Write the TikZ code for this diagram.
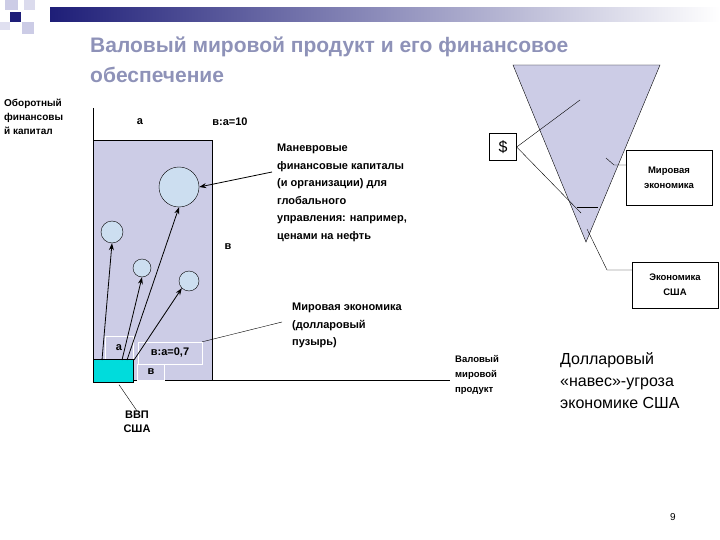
\documentclass[tikz,border=0pt]{standalone}
\usepackage{fontspec}
\setmainfont{Liberation Sans}
\usetikzlibrary{arrows.meta}
\definecolor{fillb}{RGB}{204,204,230}
\definecolor{circb}{RGB}{204,222,240}
\definecolor{ttl}{RGB}{142,146,184}
\definecolor{navy}{RGB}{30,30,120}
\definecolor{cyanb}{RGB}{0,220,220}
\begin{document}
\begin{tikzpicture}[x=1pt,y=-1pt,
  lbl/.style={font=\bfseries\fontsize{11}{17.5}\selectfont,align=left,inner sep=0pt},
  lblc/.style={font=\bfseries\fontsize{11}{14}\selectfont,align=center,inner sep=0pt},
  sml/.style={font=\bfseries\fontsize{10}{14}\selectfont},
  bub/.style={circle,draw,fill=circb,inner sep=0pt},
  arr/.style={-{Stealth[length=7pt,width=5pt]},thick},
  wbox/.style={draw=white,inner sep=0pt}]
\useasboundingbox (0,0) rectangle (720,540);
% header
\shade[left color=navy,right color=white] (50,8) rectangle (720,22);
\fill[navy] (10,12) rectangle (21,22);
\fill[fillb] (5,0) rectangle (18,10);
\fill[fillb!70] (24,0) rectangle (35,10);
\fill[fillb] (22,22) rectangle (34,34);
\fill[fillb!60] (0,22) rectangle (10,30);
\node[anchor=west,text=ttl,font=\bfseries\fontsize{21}{30}\selectfont,align=left,inner sep=0pt] (title) at (90,60) {Валовый мировой продукт и его финансовое\\обеспечение};
% left block
\node[lbl,sml,anchor=north west,align=left,inner sep=0pt] (ofk) at (4,99) {Оборотный\\финансовы\\й капитал};
\draw[fill=fillb] (93,140) rectangle (212,380);
\draw (93,108) -- (93,140);
\draw (212,380) -- (450,380);
\node[lbl] (a1) at (140,122) {а};
\node[lbl] (ba10) at (230,122) {в:а=10};
\node[lbl] (b1) at (228,247) {в};
\node[bub,minimum size=40pt] (c1) at (179,187) {};
\node[bub,minimum size=22pt] (c2) at (112,232) {};
\node[bub,minimum size=18pt] (c3) at (142,268) {};
\node[bub,minimum size=20pt] (c4) at (189,281) {};
\node[wbox,minimum width=28pt,minimum height=23pt,lblc] (abox) at (119,348) {а};
\node[wbox,minimum width=64pt,minimum height=22pt,lblc] (b07) at (170,353) {в:а=0,7};
\node[wbox,minimum width=27pt,minimum height=16pt,lblc] (bsm) at (151,372) {в};
\node[draw,fill=cyanb,minimum width=40pt,minimum height=23pt,inner sep=0pt] (gdp) at (113,371) {};
\coordinate (s1) at (102,360); \coordinate (s2) at (122,360);
\coordinate (s3) at (127,360); \coordinate (s4) at (134,360);
\draw[arr] (s1) -- (c2.south);
\draw[arr] (s2) -- (c3.south);
\draw[arr] (s3) -- (c1.south);
\draw[arr] (s4) -- (c4.south west);
\node[lbl,anchor=north west] (man) at (277,144) {Маневровые\\финансовые капиталы\\(и организации) для\\глобального\\управления: например,\\ценами на нефть};
\coordinate (m1) at (272,172);
\draw[arr] (m1) -- (c1.east);
\node[lbl,anchor=north west] (mir) at (292,303) {Мировая экономика\\(долларовый\\пузырь)};
\coordinate (mb) at (282,322);
\draw (b07.north east) -- (mb);
\node[lblc] (vvp) at (137,422) {ВВП\\США};
\draw (gdp.south) ++(6,2) coordinate (g1) -- (vvp.north);
\node[lbl,font=\bfseries\fontsize{9.5}{15}\selectfont,anchor=north west] (vmp) at (455,355) {Валовый\\мировой\\продукт};
\node[anchor=north west,align=left,inner sep=0pt,font=\fontsize{16}{22}\selectfont] (nav) at (560,352) {Долларовый\\«навес»-угроза\\экономике США};
\node[font=\fontsize{10}{12}\selectfont] (pg) at (673,517) {9};
% triangle
\coordinate (t1) at (513,65); \coordinate (t2) at (660,65); \coordinate (t3) at (586,242);
\draw[fill=fillb] (t1) -- (t2) -- (t3) -- cycle;
\coordinate (h1) at (577,207); \coordinate (h2) at (598,207);
\draw (h1) -- (h2);
\node[draw,minimum width=27pt,minimum height=27pt,inner sep=0pt,font=\fontsize{16}{18}\selectfont] (dol) at (503,147) {\$};
\coordinate (d1) at (580,100); \coordinate (d2) at (581,213);
\draw (d1) -- (dol.east) -- (d2);
\node[draw,minimum width=86pt,minimum height=55pt,lblc,font=\bfseries\fontsize{9.5}{15}\selectfont] (mirb) at (669,178) {Мировая\\экономика};
\coordinate (mk1) at (606,158); \coordinate (mk2) at (614,165);
\draw (mk1) -- (mk2) -- (mirb.west |- mk2);
\node[draw,minimum width=86pt,minimum height=46pt,lblc,font=\bfseries\fontsize{9.5}{15}\selectfont] (usab) at (675,285) {Экономика\\США};
\coordinate (u1) at (587,229); \coordinate (u2) at (607,270);
\draw (u1) -- (u2) -- (usab.west |- u2);
\end{tikzpicture}
\end{document}
